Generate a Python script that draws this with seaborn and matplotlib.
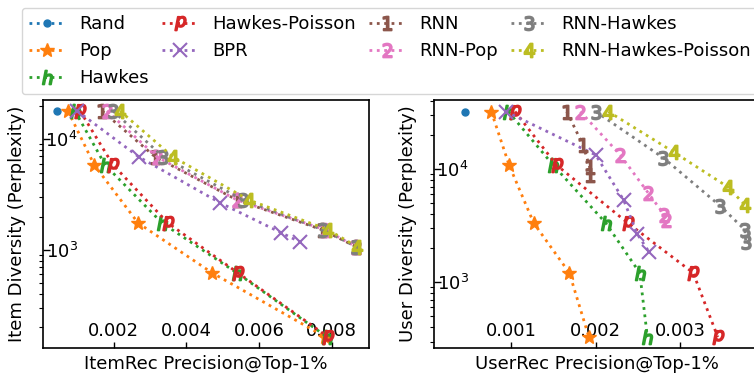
import matplotlib
matplotlib.use("Agg")
import matplotlib.pyplot as plt
import seaborn as sns
import numpy as np
from matplotlib.lines import Line2D

# ---------------- data ----------------
series_names = ["Rand", "Pop", "Hawkes", "Hawkes-Poisson", "BPR",
                "RNN", "RNN-Pop", "RNN-Hawkes", "RNN-Hawkes-Poisson"]
markers = [".", "*", "$h$", "$p$", "x", "$1$", "$2$", "$3$", "$4$"]

# ItemRec (left panel): precision, diversity
item_rand_x = [0.00044]
item_rand_y = [18000]
item_pop_x = [0.00074, 0.00146, 0.00267, 0.00471, 0.00782]
item_pop_y = [18000, 5860, 1750, 620, 164]
item_hawkes_x = [0.00093, 0.00176, 0.00333, 0.00539, 0.00787]
item_hawkes_y = [18000, 5860, 1750, 620, 164]
item_hp_x = [0.00107, 0.00198, 0.00349, 0.00542, 0.00790]
item_hp_y = [18000, 5860, 1750, 620, 164]
item_bpr_x = [0.00099, 0.00269, 0.00493, 0.00661, 0.00713]
item_bpr_y = [18000, 6920, 2660, 1430, 1180]
item_rnn_x = [0.00168, 0.00314, 0.00539, 0.00774, 0.00867]
item_rnn_y = [18000, 6920, 2830, 1520, 1070]
item_rnnpop_x = [0.00181, 0.00319, 0.00539, 0.00782, 0.00867]
item_rnnpop_y = [18000, 6920, 2830, 1520, 1070]
item_rnnh_x = [0.00198, 0.00336, 0.00556, 0.00776, 0.00867]
item_rnnh_y = [18000, 6920, 2830, 1520, 1070]
item_rnnhp_x = [0.00217, 0.00363, 0.00572, 0.00790, 0.00870]
item_rnnhp_y = [18000, 6920, 2830, 1520, 1070]

# UserRec (right panel)
user_rand_x = [0.00046]
user_rand_y = [32100]
user_pop_x = [0.00077, 0.00098, 0.00127, 0.00169, 0.00192]
user_pop_y = [32100, 10800, 3330, 1210, 329]
user_hawkes_x = [0.00097, 0.00150, 0.00212, 0.00252, 0.00261]
user_hawkes_y = [32100, 10800, 3330, 1210, 329]
user_hp_x = [0.00105, 0.00154, 0.00238, 0.00315, 0.00344]
user_hp_y = [32100, 10800, 3330, 1210, 329]
user_bpr_x = [0.00094, 0.00200, 0.00233, 0.00249, 0.00263]
user_bpr_y = [32100, 13300, 5320, 2670, 1850]
user_rnn_x = [0.00166, 0.00185, 0.00193, 0.00193]
user_rnn_y = [32100, 16300, 10400, 8850]
user_rnnpop_x = [0.00182, 0.00229, 0.00262, 0.00281, 0.00283]
user_rnnpop_y = [32100, 13300, 6140, 3930, 3550]
user_rnnh_x = [0.00200, 0.00280, 0.00347, 0.00376, 0.00377]
user_rnnh_y = [32100, 12500, 4710, 2900, 2270]
user_rnnhp_x = [0.00215, 0.00292, 0.00356, 0.00376]
user_rnnhp_y = [32100, 14100, 6930, 4810]

item_data = [(item_rand_x, item_rand_y), (item_pop_x, item_pop_y),
             (item_hawkes_x, item_hawkes_y), (item_hp_x, item_hp_y),
             (item_bpr_x, item_bpr_y), (item_rnn_x, item_rnn_y),
             (item_rnnpop_x, item_rnnpop_y), (item_rnnh_x, item_rnnh_y),
             (item_rnnhp_x, item_rnnhp_y)]
user_data = [(user_rand_x, user_rand_y), (user_pop_x, user_pop_y),
             (user_hawkes_x, user_hawkes_y), (user_hp_x, user_hp_y),
             (user_bpr_x, user_bpr_y), (user_rnn_x, user_rnn_y),
             (user_rnnpop_x, user_rnnpop_y), (user_rnnh_x, user_rnnh_y),
             (user_rnnhp_x, user_rnnhp_y)]

xlabels = ["ItemRec Precision@Top-1%", "UserRec Precision@Top-1%"]
ylabels = ["Item Diversity (Perplexity)", "User Diversity (Perplexity)"]
item_xticks = [0.002, 0.004, 0.006, 0.008]
user_xticks = [0.001, 0.002, 0.003]

# ---------------- style ----------------
sns.set_theme(style="ticks")
plt.rcParams["font.family"] = ["DejaVu Sans"]
plt.rcParams["mathtext.fontset"] = "dejavusans"
for k in ["text.color", "axes.labelcolor", "xtick.color", "ytick.color", "axes.edgecolor"]:
    plt.rcParams[k] = "black"
plt.rcParams["axes.linewidth"] = 1.2
palette = sns.color_palette("tab10", 10)
colors = [palette[i] for i in range(9)]
mews = [1.0, 1.0, 1.3, 1.3, 1.5, 1.3, 1.3, 1.3, 1.3]

W, H = 754, 375
fig = plt.figure(figsize=(W / 100, H / 100), dpi=100)
axL = fig.add_axes([43 / W, (H - 348) / H, 326 / W, 248 / H])
axR = fig.add_axes([434 / W, (H - 348) / H, 326 / W, 248 / H])

for ax, data, xl, yl, xt in [(axL, item_data, xlabels[0], ylabels[0], item_xticks),
                             (axR, user_data, xlabels[1], ylabels[1], user_xticks)]:
    for i, (xs, ys) in enumerate(data):
        sns.lineplot(x=xs, y=ys, ax=ax, color=colors[i], marker=markers[i],
                     markersize=10, linestyle=":", linewidth=2,
                     markeredgecolor=colors[i], markeredgewidth=mews[i],
                     sort=False, estimator=None, label=series_names[i], legend=False)
    ax.set_yscale("log")
    ax.set_xticks(xt)
    ax.set_xticklabels([f"{v:.3f}" for v in xt])
    ax.tick_params(axis="x", which="major", direction="in", length=4, width=1,
                   pad=-19, labelsize=13)
    ax.tick_params(axis="y", which="major", direction="in", length=5, width=1,
                   pad=-25, labelsize=13)
    ax.tick_params(axis="y", which="minor", direction="out", length=3, width=0.8)
    ax.set_xlabel(xl, fontsize=13, labelpad=5)
    ax.set_ylabel(yl, fontsize=13, labelpad=6)
    for sp in ax.spines.values():
        sp.set_visible(True)
        sp.set_color("black")

axL.set_xlim(0.00005, 0.00903)
axL.set_ylim(130, 22600)
axR.set_xlim(0.000094, 0.003938)
axR.set_ylim(263, 40600)

leg_handles = [Line2D([], [], color=colors[i], marker=markers[i], markersize=10,
                      linestyle=":", linewidth=2, markeredgewidth=mews[i])
               for i in range(9)]
fig.legend(leg_handles, series_names, loc="upper left",
           bbox_to_anchor=(21.7 / W, 1 - 7.7 / H), borderaxespad=0,
           ncol=4, fontsize=13, columnspacing=0.7, handletextpad=0.8,
           numpoints=1, frameon=True)

fig.savefig("out.png", dpi=100)
